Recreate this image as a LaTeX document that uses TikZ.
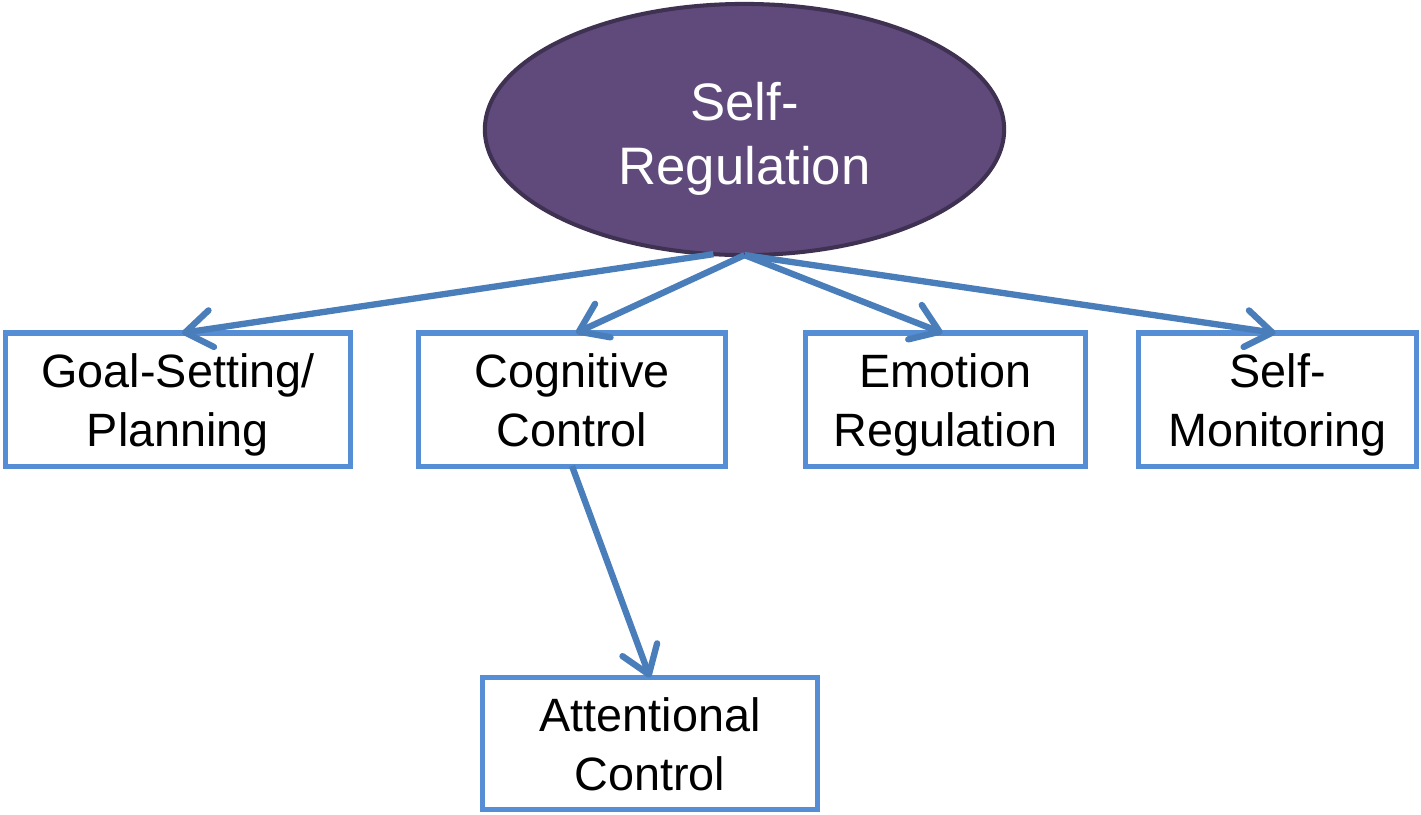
\documentclass[tikz,border=0pt]{standalone}
\usepackage{fontspec}
\setmainfont{Liberation Sans}
\usetikzlibrary{shapes.geometric,arrows.meta,calc}
\definecolor{boxblue}{HTML}{558ED5}
\definecolor{arrowblue}{HTML}{4A7EBB}
\definecolor{purplefill}{HTML}{604A7B}
\definecolor{purpleedge}{HTML}{3F3151}
\newcommand\boxtop{\rule{0pt}{14.5pt}}
\newcommand\boxbot{\rule[-4.5pt]{0pt}{4.5pt}}
\newcommand\ovaltop{\rule{0pt}{18.3pt}}
\newcommand\ovalbot{\rule[-5.5pt]{0pt}{5.5pt}}
\tikzset{
  conceptbox/.style={draw=boxblue, line width=1.45pt, rectangle, inner sep=0pt, outer sep=0pt,
    align=center, font=\fontsize{13.3pt}{17pt}\selectfont, text=black},
  topoval/.style={draw=purpleedge, fill=purplefill, line width=1.15pt, ellipse, inner sep=0pt, outer sep=0pt,
    align=center, font=\fontsize{15pt}{18.2pt}\selectfont, text=white,
    minimum width=51.9mm, minimum height=25.1mm},
  linkarrow/.style={draw=arrowblue, line width=1.8pt,
    -{Straight Barb[length=7.5pt,width=10.5pt,round]}}
}
\begin{document}
\begin{tikzpicture}[x=0.01cm,y=-0.01cm]
\useasboundingbox (0,0) rectangle (1421,814);
\node[topoval] (sr) at (744.5,129.5) {\ovaltop Self-\\Regulation\ovalbot};
\node[conceptbox, minimum width=34.5mm, minimum height=13.3mm] (goal) at (178,399.5) {\boxtop Goal-Setting/\\Planning\boxbot};
\node[conceptbox, minimum width=30.7mm, minimum height=13.3mm] (cog) at (572,399.5) {\boxtop Cognitive\\Control\boxbot};
\node[conceptbox, minimum width=28.0mm, minimum height=13.3mm] (emo) at (945.5,399.5) {\boxtop Emotion\\Regulation\boxbot};
\node[conceptbox, minimum width=27.8mm, minimum height=13.3mm] (mon) at (1277.5,399.5) {\boxtop Self-\\Monitoring\boxbot};
\node[conceptbox, minimum width=33.5mm, minimum height=13.2mm] (att) at (650,743.5) {\boxtop Attentional\\Control\boxbot};
\draw[linkarrow] (sr.-104) -- ($(goal.north)+(4,0)$);
\draw[linkarrow] (sr.south) -- ($(cog.north)+(4,0)$);
\draw[linkarrow] (sr.south) -- ($(emo.north)+(-3,0)$);
\draw[linkarrow] (sr.south) -- ($(mon.north)+(-2,0)$);
\draw[linkarrow] (cog.south) -- (att.north);
\end{tikzpicture}
\end{document}
